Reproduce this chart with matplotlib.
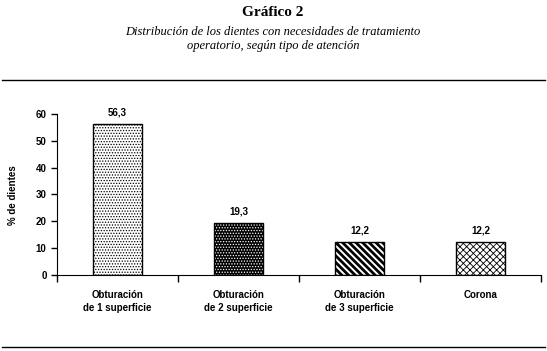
import matplotlib.pyplot as plt
from matplotlib.lines import Line2D
from matplotlib.font_manager import findfont, FontProperties

categories = ["Obturación\nde 1 superficie", "Obturación\nde 2 superficie",
              "Obturación\nde 3 superficie", "Corona"]
values = [56.3, 19.3, 12.2, 12.2]
value_labels = ["56,3", "19,3", "12,2", "12,2"]
yticks = [0, 10, 20, 30, 40, 50, 60]

fig = plt.figure(figsize=(5.47, 3.51), dpi=100)
ax = fig.add_axes([57 / 547, 1 - 275 / 351, (541 - 57) / 547, (275 - 114) / 351])

sans = "Liberation Sans"
serif = "Liberation Serif"
# pick a serif that really has an italic face
italic_serif = serif
for fam in ["Liberation Serif", "DejaVu Serif", "Noto Serif"]:
    path = findfont(FontProperties(family=fam, style="italic"), fallback_to_default=False)
    if "italic" in path.lower() or "oblique" in path.lower():
        italic_serif = fam
        break


def hatch_lw(bars, lw):
    for b in bars:
        if hasattr(b, "set_hatch_linewidth"):
            b.set_hatch_linewidth(lw)


x = list(range(len(values)))
w = 0.4
plt.rcParams["hatch.linewidth"] = 0.6
b1 = ax.bar(x[0], values[0], w, facecolor="white", edgecolor="black", hatch="......", linewidth=1)
hatch_lw(b1, 0.6)
b2 = ax.bar(x[1], values[1], w, facecolor="black", edgecolor="white", hatch="......", linewidth=0)
hatch_lw(b2, 0.6)
ax.bar(x[1], values[1], w, facecolor="none", edgecolor="black", linewidth=1)
b3 = ax.bar(x[2], values[2], w, facecolor="white", edgecolor="black", hatch="\\\\\\\\\\", linewidth=1)
hatch_lw(b3, 2.0)
b4 = ax.bar(x[3], values[3], w, facecolor="white", edgecolor="black", hatch="xxxxx", linewidth=1)
hatch_lw(b4, 0.6)

for xi, v, lab in zip(x, values, value_labels):
    ax.annotate(lab, (xi, v), xytext=(0, 8.5), textcoords="offset points", ha="center", va="center",
                fontsize=7, fontweight="bold", family=sans)

ax.set_xlim(-0.5, 3.5)
ax.set_ylim(0, 60)
ax.set_yticks(yticks)
ax.set_yticklabels([str(t) for t in yticks], fontsize=7, fontweight="bold", family=sans)
ax.set_xticks([i + 0.5 for i in range(-1, 4)])
ax.set_xticklabels([])
ax.tick_params(axis="both", direction="out", length=4, width=1)
ax.tick_params(axis="x", length=5)
for i, c in enumerate(categories):
    ax.text(i, -5.5, c, ha="center", va="top", fontsize=7, fontweight="bold", family=sans,
            linespacing=1.45)
ax.spines["top"].set_visible(False)
ax.spines["right"].set_visible(False)

fig.text(13 / 547, 1 - 195 / 351, "% de dientes", rotation=90, ha="center", va="center",
         fontsize=7, fontweight="bold", family=sans)

fig.text(273 / 547, 1 - 13 / 351, "Gráfico 2", ha="center", va="center",
         fontsize=11, fontweight="bold", family=serif)
fig.text(273 / 547, 1 - 39 / 351, "Distribución de los dientes con necesidades de tratamiento\noperatorio, según tipo de atención",
         ha="center", va="center", fontsize=9, fontstyle="italic", family=italic_serif, linespacing=1.15)

fig.add_artist(Line2D([2 / 547, 545 / 547], [1 - 80 / 351, 1 - 80 / 351], color="black", lw=1))
fig.add_artist(Line2D([2 / 547, 545 / 547], [1 - 347 / 351, 1 - 347 / 351], color="black", lw=1))

fig.savefig("out.png", dpi=100)
